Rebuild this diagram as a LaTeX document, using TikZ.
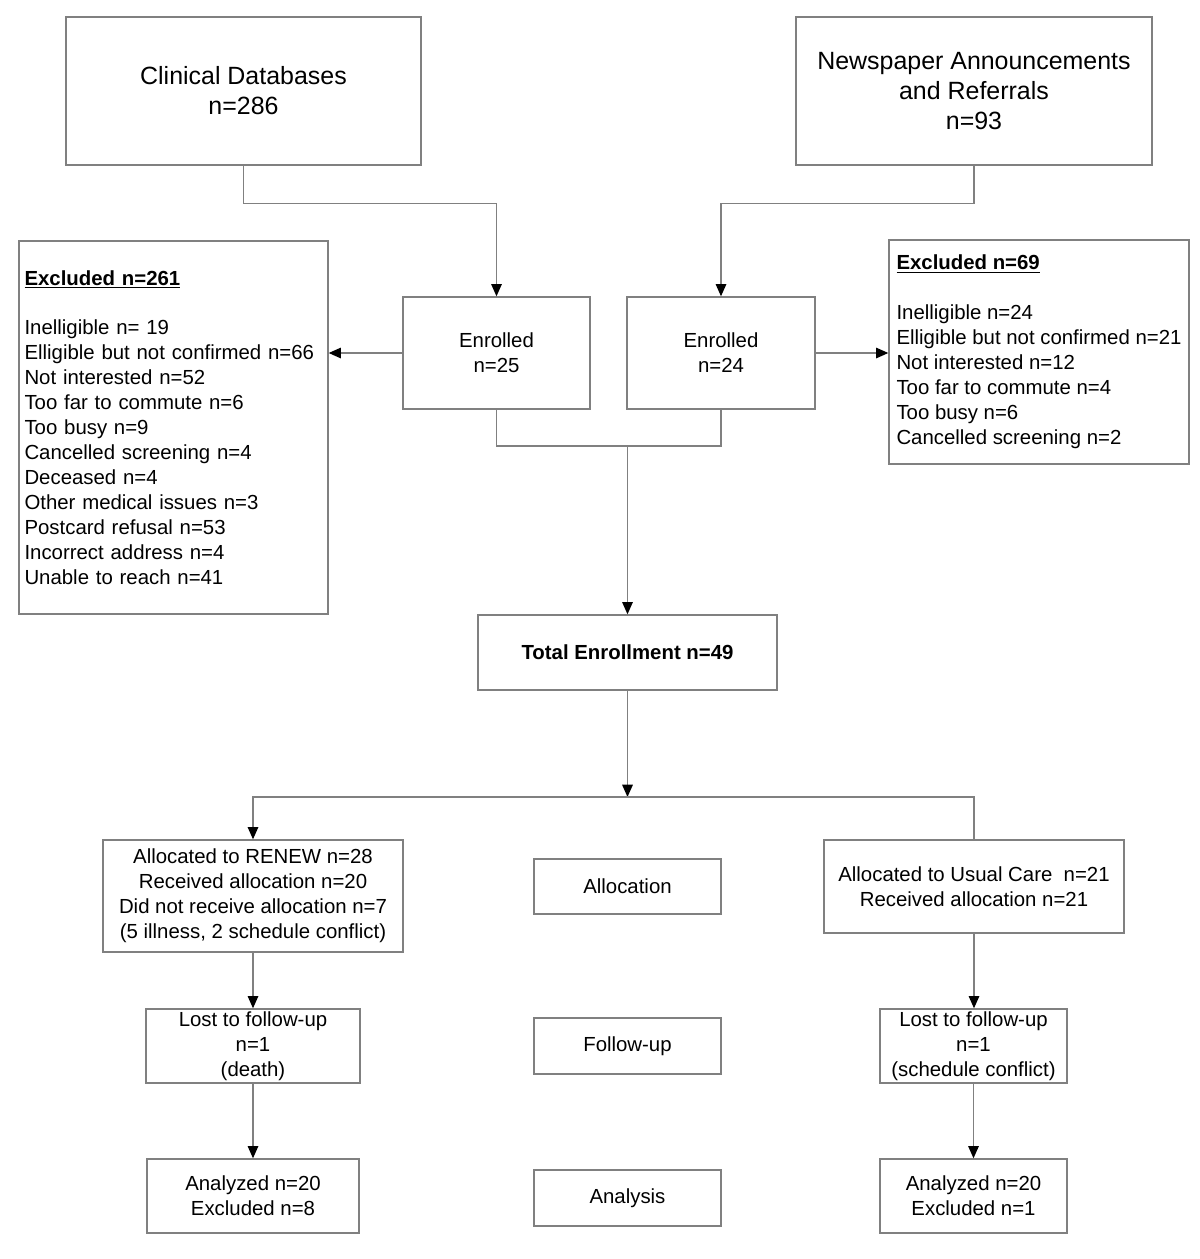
\documentclass[tikz,border=0pt]{standalone}
\usepackage{fontspec}
\setmainfont{Liberation Sans}
\usepackage{tikz}
\usetikzlibrary{arrows.meta}

\definecolor{linegray}{RGB}{128,128,128}
\tikzset{
  box/.style={draw=linegray, line width=0.8pt, align=center, inner sep=0pt,
    font=\fontsize{11.6pt}{14.2pt}\selectfont},
  bigbox/.style={box, font=\fontsize{14.2pt}{17pt}\selectfont},
  listbox/.style={box, align=left, inner xsep=0.11cm},
  link/.style={draw=linegray, line width=0.8pt},
  arr/.style={link, -{Triangle[length=7pt,width=6pt,color=black]}}
}

\begin{document}
\begin{tikzpicture}[x=0.02cm,y=-0.02cm]
	\useasboundingbox (0,0) rectangle (1200,1259);

	% sources
	\node[bigbox, minimum width=7.1cm, minimum height=2.96cm] (clin) at (243.5,91) {Clinical Databases\\n=286};
	\node[bigbox, minimum width=7.12cm, minimum height=2.96cm] (news) at (974,91) {Newspaper Announcements\\and Referrals\\n=93};

	% enrolment
	\node[box, minimum width=3.74cm, minimum height=2.24cm] (enr1) at (496.5,353) {Enrolled\\n=25};
	\node[box, minimum width=3.76cm, minimum height=2.24cm] (enr2) at (721,353) {Enrolled\\n=24};

	\node[listbox, text width=5.96cm, minimum width=6.18cm, minimum height=7.46cm] (exc1) at (173.5,427.5)
		{\underline{\textbf{Excluded n=261}}\\[14.2pt]
		Inelligible n= 19\\
		Elligible but not confirmed n=66\\
		Not interested n=52\\
		Too far to commute n=6\\
		Too busy n=9\\
		Cancelled screening n=4\\
		Deceased n=4\\
		Other medical issues n=3\\
		Postcard refusal n=53\\
		Incorrect address n=4\\
		Unable to reach n=41};
	\node[listbox, minimum width=6.0cm, minimum height=4.48cm] (exc2) at (1039,352)
		{\underline{\textbf{Excluded n=69}}\\[14.2pt]
		Inelligible n=24\\
		Elligible but not confirmed n=21\\
		Not interested n=12\\
		Too far to commute n=4\\
		Too busy n=6\\
		Cancelled screening n=2};

	\node[box, minimum width=5.98cm, minimum height=1.5cm] (total) at (627.5,652.5) {\textbf{Total Enrollment n=49}};

	% arms
	\node[box, minimum width=6.0cm, minimum height=2.24cm] (renew) at (253,896)
		{Allocated to RENEW n=28\\Received allocation n=20\\Did not receive allocation n=7\\(5 illness, 2 schedule conflict)};
	\node[box, minimum width=6.0cm, minimum height=1.86cm] (usual) at (974,886.5)
		{Allocated to Usual Care\ \ n=21\\Received allocation n=21};
	\node[box, minimum width=4.28cm, minimum height=1.48cm] (lost1) at (253,1046) {Lost to follow-up\\n=1\\(death)};
	\node[box, minimum width=3.74cm, minimum height=1.48cm] (lost2) at (973.5,1046) {Lost to follow-up\\n=1\\(schedule conflict)};
	\node[box, minimum width=4.24cm, minimum height=1.48cm] (anal1) at (253,1196) {Analyzed n=20\\Excluded n=8};
	\node[box, minimum width=3.74cm, minimum height=1.48cm] (anal2) at (973.5,1196) {Analyzed n=20\\Excluded n=1};

	% stage labels
	\node[box, minimum width=3.74cm, minimum height=1.1cm] (alloc) at (627.5,886.5) {Allocation};
	\node[box, minimum width=3.74cm, minimum height=1.12cm] (follow) at (627.5,1046) {Follow-up};
	\node[box, minimum width=3.74cm, minimum height=1.12cm] (analysis) at (627.5,1198) {Analysis};

	\coordinate (merge) at (627.5,446);
	\coordinate (split) at (627.5,797);

	\draw[arr] (clin.south) -- ++(0,38) -| (enr1.north);
	\draw[arr] (news.south) -- ++(0,38) -| (enr2.north);
	\draw[arr] (enr1.west) -- (enr1.west -| exc1.east);
	\draw[arr] (enr2.east) -- (enr2.east -| exc2.west);
	\draw[link] (enr1.south) |- (merge) -| (enr2.south);
	\draw[arr] (merge) -- (total.north);
	\draw[arr] (total.south) -- (split);
	\draw[arr] (split) -| (renew.north);
	\draw[link] (split) -| (usual.north);
	\draw[arr] (renew.south) -- (lost1.north);
	\draw[arr] (lost1.south) -- (anal1.north);
	\draw[arr] (usual.south) -- (usual.south |- lost2.north);
	\draw[arr] (lost2.south) -- (lost2.south |- anal2.north);
\end{tikzpicture}
\end{document}
